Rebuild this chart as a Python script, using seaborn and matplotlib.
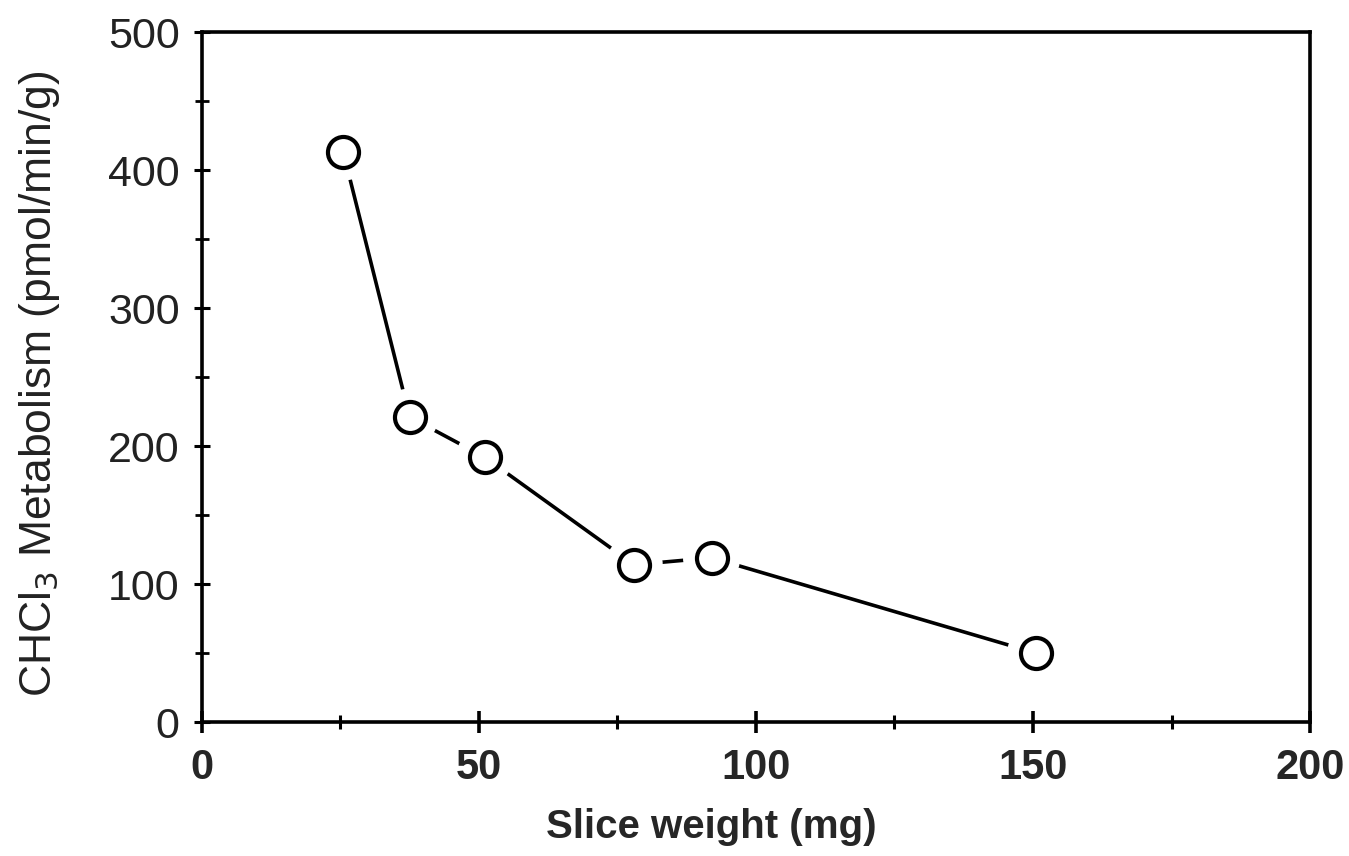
import matplotlib
matplotlib.use("Agg")
import matplotlib.pyplot as plt
from matplotlib.ticker import MultipleLocator
import seaborn as sns
import pandas as pd

# Slice weight (mg) vs. chloroform metabolism rate (pmol/min/g)
slice_weight = [25.5, 37.5, 51.0, 78.0, 92.0, 150.5]
metabolism = [413, 221, 192, 114, 119, 50]

x_ticks = [0, 50, 100, 150, 200]
y_ticks = [0, 100, 200, 300, 400, 500]

df = pd.DataFrame({"weight": slice_weight, "rate": metabolism})

sns.set_style("ticks")
plt.rcParams["font.family"] = ["Liberation Sans", "DejaVu Sans"]

fig = plt.figure(figsize=(13.49, 8.56), dpi=100)
ax = fig.add_axes([0.1497, 0.1565, 0.9711 - 0.1497, 0.9626 - 0.1565])

# connecting line, interrupted around each marker
sns.lineplot(data=df, x="weight", y="rate", ax=ax, color="black",
             linewidth=2.6, sort=False, zorder=2)
sns.scatterplot(data=df, x="weight", y="rate", ax=ax, s=1700, marker="o",
                color="white", edgecolor="none", linewidth=0, zorder=3)
sns.scatterplot(data=df, x="weight", y="rate", ax=ax, s=500, marker="o",
                facecolor="white", edgecolor="black", linewidth=3.0, zorder=4)

ax.set_xlim(0, 200)
ax.set_ylim(0, 500)
ax.set_xticks(x_ticks)
ax.set_yticks(y_ticks)
ax.xaxis.set_minor_locator(MultipleLocator(25))
ax.yaxis.set_minor_locator(MultipleLocator(50))
ax.set_xticklabels([str(v) for v in x_ticks], fontsize=30, fontweight="bold")
ax.set_yticklabels([str(v) for v in y_ticks], fontsize=31, color="#222222")

for side in ["top", "right", "left", "bottom"]:
    ax.spines[side].set_visible(True)
    ax.spines[side].set_linewidth(2.6)
    ax.spines[side].set_color("black")

ax.tick_params(axis="x", which="major", direction="inout", length=16,
               width=2.6, pad=11, color="black")
ax.tick_params(axis="x", which="minor", direction="inout", length=10,
               width=2.2, color="black")
ax.tick_params(axis="y", which="major", direction="inout", length=12,
               width=2.2, pad=10, color="black")
ax.tick_params(axis="y", which="minor", direction="inout", length=10,
               width=2.0, color="black")

ax.set_xlabel("Slice weight (mg)", fontsize=29, fontweight="bold")
ax.xaxis.set_label_coords(0.46, -0.125)
ax.set_ylabel(r"CHCl$_3$ Metabolism (pmol/min/g)", fontsize=32,
              color="#222222")
ax.yaxis.set_label_coords(-0.126, 0.49)

fig.savefig("out.png", dpi=100, facecolor="white")
